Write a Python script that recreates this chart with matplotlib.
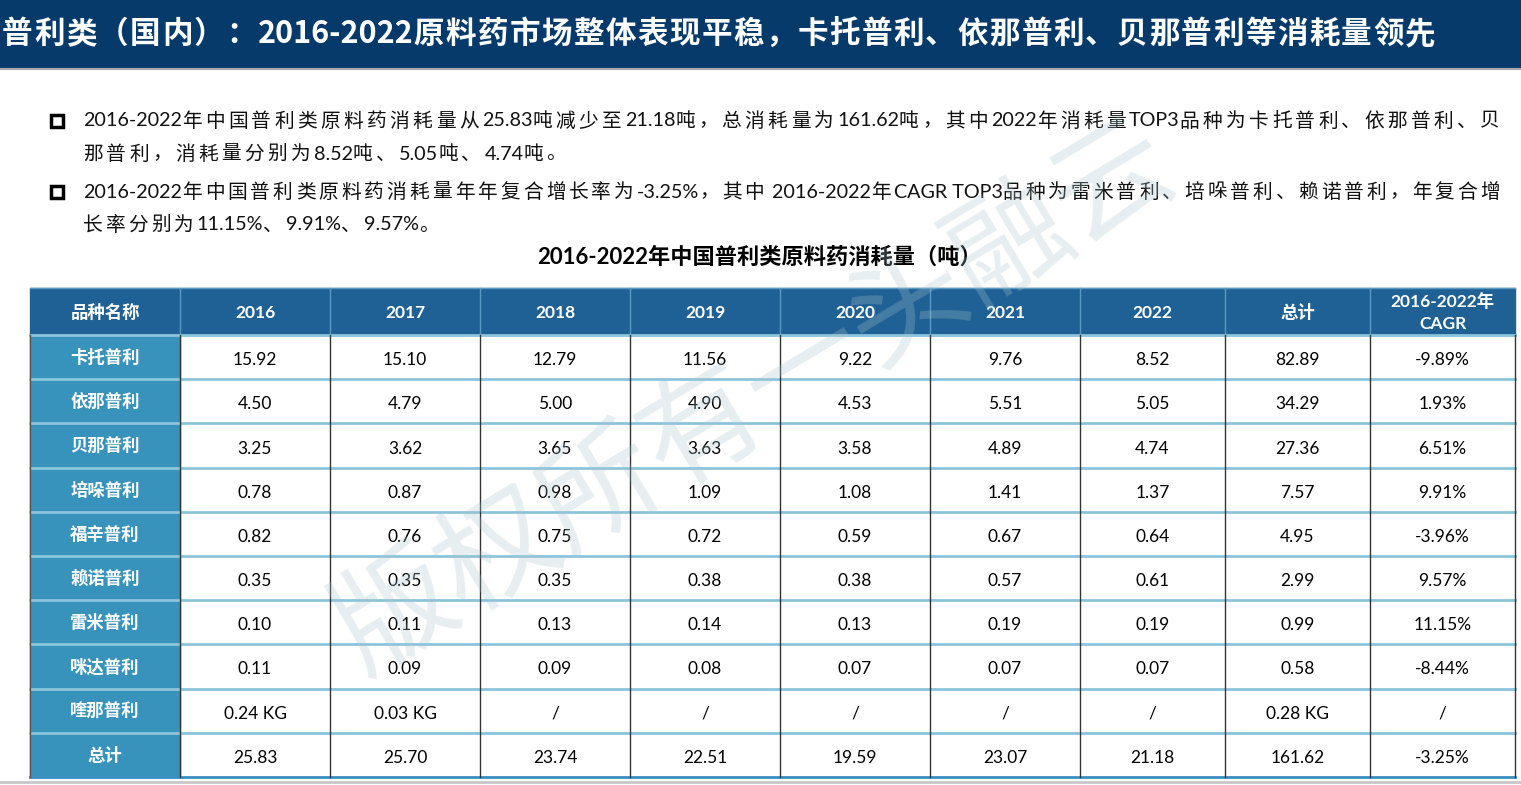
import matplotlib
matplotlib.use("Agg")
import matplotlib.pyplot as plt
from matplotlib.patches import Rectangle

# ---------------- data ----------------
title = "普利类（国内）：2016-2022原料药市场整体表现平稳，卡托普利、依那普利、贝那普利等消耗量领先"
bullet1 = ["2016-2022年中国普利类原料药消耗量从25.83吨减少至21.18吨，总消耗量为161.62吨，其中2022年消耗量TOP3品种为卡托普利、依那普利、贝",
           "那普利，消耗量分别为8.52吨、5.05吨、4.74吨。"]
bullet2 = ["2016-2022年中国普利类原料药消耗量年年复合增长率为-3.25%，其中 2016-2022年CAGR TOP3品种为雷米普利、培哚普利、赖诺普利，年复合增",
           "长率分别为11.15%、9.91%、9.57%。"]
table_title = "2016-2022年中国普利类原料药消耗量（吨）"
watermark = "版权所有一头融云"

header = ["品种名称", "2016", "2017", "2018", "2019", "2020", "2021", "2022", "总计", "2016-2022年\nCAGR"]
names = ["卡托普利", "依那普利", "贝那普利", "培哚普利", "福辛普利", "赖诺普利", "雷米普利", "咪达普利", "喹那普利", "总计"]

captopril   = ["15.92", "15.10", "12.79", "11.56", "9.22", "9.76", "8.52", "82.89", "-9.89%"]
enalapril   = ["4.50", "4.79", "5.00", "4.90", "4.53", "5.51", "5.05", "34.29", "1.93%"]
benazepril  = ["3.25", "3.62", "3.65", "3.63", "3.58", "4.89", "4.74", "27.36", "6.51%"]
perindopril = ["0.78", "0.87", "0.98", "1.09", "1.08", "1.41", "1.37", "7.57", "9.91%"]
fosinopril  = ["0.82", "0.76", "0.75", "0.72", "0.59", "0.67", "0.64", "4.95", "-3.96%"]
lisinopril  = ["0.35", "0.35", "0.35", "0.38", "0.38", "0.57", "0.61", "2.99", "9.57%"]
ramipril    = ["0.10", "0.11", "0.13", "0.14", "0.13", "0.19", "0.19", "0.99", "11.15%"]
imidapril   = ["0.11", "0.09", "0.09", "0.08", "0.07", "0.07", "0.07", "0.58", "-8.44%"]
quinapril   = ["0.24 KG", "0.03 KG", "/", "/", "/", "/", "/", "0.28 KG", "/"]
total       = ["25.83", "25.70", "23.74", "22.51", "19.59", "23.07", "21.18", "161.62", "-3.25%"]
rows = [captopril, enalapril, benazepril, perindopril, fosinopril,
        lisinopril, ramipril, imidapril, quinapril, total]

# ---------------- style ----------------
W, H = 1521, 785
NAVY = "#063a6b"
HEAD = "#1f6194"
SIDE = "#3893bc"
HLINE = "#8cc4dc"
VLINE = "#333333"
CJK = "Noto Sans CJK SC"
LAT = ["Lato", CJK]

col_edges = [30, 180, 330, 480, 630, 780, 930, 1080, 1225, 1370, 1515]
top_table, head_h, row_h = 288, 47, 44.2

fig = plt.figure(figsize=(W / 100, H / 100), dpi=100)
ax = fig.add_axes([0, 0, 1, 1])
ax.set_xlim(0, W)
ax.set_ylim(H, 0)
ax.axis("off")
renderer = fig.canvas.get_renderer()


def is_cjk(c):
    return ord(c) > 0x2E80


def chunks(s):
    out, buf = [], ""
    for c in s:
        if is_cjk(c):
            if buf:
                out.append((buf, False))
                buf = ""
            out.append((c, True))
        else:
            buf += c
    if buf:
        out.append((buf, False))
    return out


def spaced_text(x0, y, s, target=None, gap=None, **kw):
    """Draw text chunk by chunk, adding extra spacing after CJK characters."""
    parts = chunks(s)
    objs, widths = [], []
    for p, _ in parts:
        t = ax.text(0, y, p, va="center", ha="left", **kw)
        bb = t.get_window_extent(renderer)
        objs.append(t)
        widths.append(bb.width)
    ncjk = sum(1 for _, c in parts if c)
    if gap is None:
        gap = (target - sum(widths)) / max(ncjk, 1) if target else 0
    x = x0
    for (p, c), t, w in zip(parts, objs, widths):
        t.set_x(x)
        x += w + (gap if c else 0)
    return gap


# title bar
ax.add_patch(Rectangle((0, 0), W, 68, color=NAVY, zorder=1))
ax.plot([0, W], [69, 69], color="#a8a8a8", lw=1.5, zorder=1)
spaced_text(2, 34, title, target=1435, color="white", fontsize=22, fontweight="bold",
            family=[CJK], zorder=2)

# bullets
def bullet(y, lines):
    ax.add_patch(Rectangle((51, y - 6), 12, 12, facecolor="white", edgecolor="black", lw=2.5, zorder=2))
    g = spaced_text(83, y, lines[0], target=1503 - 83, fontsize=14.2, family=LAT,
                    color="#111111", zorder=3)
    for i, ln in enumerate(lines[1:], start=1):
        spaced_text(83, y + i * 33, ln, gap=g, fontsize=14.2, family=LAT, color="#111111", zorder=3)

bullet(121, bullet1)
bullet(192, bullet2)

ax.text(760, 257, table_title, fontsize=16, fontweight="bold", family=LAT,
        va="center", ha="center", color="black", zorder=3)

# table
bottom = top_table + head_h + row_h * len(rows)
ax.add_patch(Rectangle((col_edges[0], top_table), col_edges[-1] - col_edges[0], head_h, color=HEAD, zorder=1))
ax.add_patch(Rectangle((col_edges[0], top_table + head_h), col_edges[1] - col_edges[0], row_h * len(rows), color=SIDE, zorder=1))

for j, h in enumerate(header):
    cx = (col_edges[j] + col_edges[j + 1]) / 2
    ax.text(cx, top_table + head_h / 2 + 1, h, color="white", fontsize=12.5, fontweight="bold",
            family=LAT, ha="center", va="center", linespacing=1.45, zorder=4)
    if j > 0:
        ax.plot([col_edges[j]] * 2, [top_table, top_table + head_h], color="#5a9ac2", lw=1, zorder=3)

for i, (nm, vals) in enumerate(zip(names, rows)):
    cy = top_table + head_h + row_h * (i + 0.5)
    ax.text((col_edges[0] + col_edges[1]) / 2, cy + 1, nm, color="white", fontsize=12.5, fontweight="bold",
            family=[CJK], ha="center", va="center", zorder=4)
    for j, v in enumerate(vals):
        cx = (col_edges[j + 1] + col_edges[j + 2]) / 2
        ax.text(cx, cy + 3, v, color="black", fontsize=12.5, family=LAT, ha="center", va="center", zorder=4)

# horizontal lines
for i in range(len(rows) + 1):
    y = top_table + head_h + row_h * i
    ax.plot([col_edges[0], col_edges[-1]], [y, y], color=HLINE if i < len(rows) else "#3a8fc0",
            lw=2, zorder=3)
ax.plot([col_edges[0], col_edges[-1]], [top_table, top_table], color="#5a9ac2", lw=1, zorder=3)
# vertical lines in body
for x in col_edges[1:]:
    ax.plot([x, x], [top_table + head_h, bottom], color=VLINE, lw=1, zorder=3)
ax.plot([col_edges[0]] * 2, [top_table + head_h, bottom], color="#555555", lw=1, zorder=3)

ax.plot([0, W], [782, 782], color="#c8c8c8", lw=2, zorder=1)

# watermark
ax.text(755, 400, watermark, fontsize=86, family=[CJK], color="#aac4cc", alpha=0.28,
        rotation=31, ha="center", va="center", zorder=5)

fig.savefig("out.png", dpi=100)
